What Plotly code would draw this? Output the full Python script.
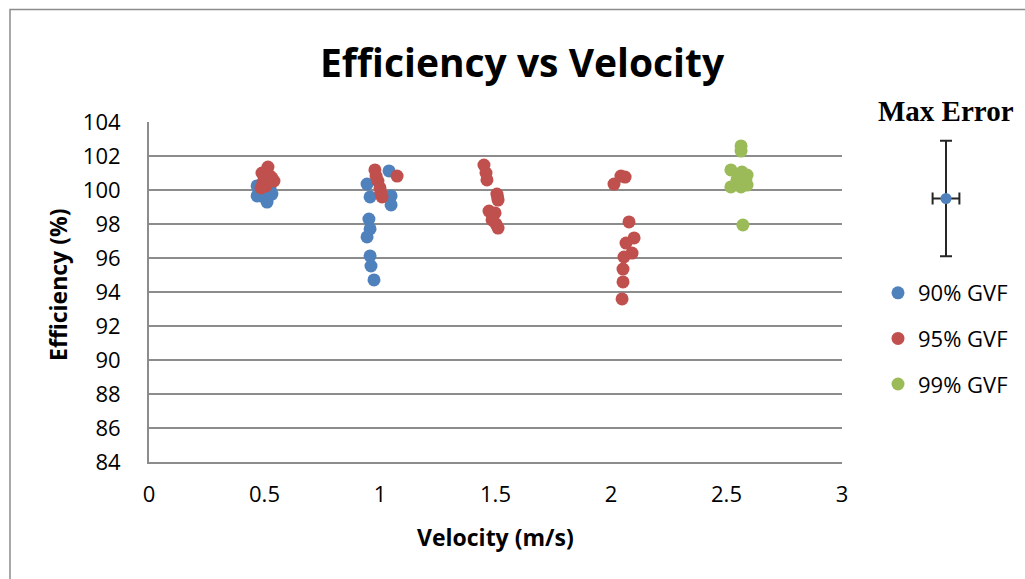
import plotly.graph_objects as go

# Measured efficiency vs superficial velocity, grouped by gas volume fraction
vel_90 = [0.468, 0.485, 0.511, 0.532, 0.498, 0.468, 0.524,
          0.944, 1.039, 0.957, 1.048, 1.048, 0.952, 0.957, 0.944, 0.957, 0.961, 0.974]
eff_90 = [100.24, 99.65, 99.29, 99.76, 100.0, 99.65, 100.06,
          100.35, 101.12, 99.59, 99.65, 99.12, 98.29, 97.71, 97.24, 96.12, 95.53, 94.71]

vel_95 = [0.515, 0.489, 0.532, 0.541, 0.494, 0.506, 0.485, 0.524, 0.502,
          0.978, 0.983, 0.991, 1.000, 1.004, 1.009, 1.074,
          1.450, 1.459, 1.463, 1.506, 1.511, 1.509, 1.472, 1.498, 1.485, 1.502, 1.511,
          2.043, 2.061, 2.013, 2.078, 2.100, 2.065, 2.091, 2.056, 2.052, 2.052, 2.048]
eff_95 = [101.35, 101.0, 100.71, 100.53, 100.47, 100.24, 100.12, 100.82, 100.7,
          101.18, 100.82, 100.53, 100.12, 99.82, 99.59, 100.82,
          101.47, 101.0, 100.59, 99.76, 99.41, 99.6, 98.76, 98.65, 98.24, 98.0, 97.76,
          100.82, 100.76, 100.35, 98.12, 97.18, 96.88, 96.29, 96.06, 95.35, 94.59, 93.59]

vel_99 = [2.563, 2.563, 2.519, 2.567, 2.589, 2.545, 2.584, 2.519, 2.563, 2.589, 2.571]
eff_99 = [102.59, 102.29, 101.18, 101.06, 100.88, 100.59, 100.59, 100.18, 100.18, 100.29, 97.94]

# Maximum measurement uncertainty (velocity, efficiency)
max_err_vel = 0.058
max_err_eff = 3.4
max_err_center = 99.5

x_ticks = [0, 0.5, 1, 1.5, 2, 2.5, 3]
y_ticks = [84, 86, 88, 90, 92, 94, 96, 98, 100, 102, 104]

BLUE = "#4F81BD"
RED = "#C0504D"
GREEN = "#9BBB59"
GRID = "#8C8C8C"
FONT = "Open Sans"

W, H = 1025, 579
L, R, T, B = 149, 0, 122, 117
PW = W - L - R
PH = H - T - B


def px(x):
    return (x - L) / PW


def py(y):
    return (H - B - y) / PH


fig = go.Figure()
series = [("90% GVF", vel_90, eff_90, BLUE),
          ("95% GVF", vel_95, eff_95, RED),
          ("99% GVF", vel_99, eff_99, GREEN)]
for name, xs, ys, col in series:
    fig.add_trace(go.Scatter(
        x=xs, y=ys, mode="markers", name=name, legendgroup=name,
        marker=dict(color=col, size=13, line=dict(width=0)),
        cliponaxis=False,
    ))

# Max error indicator drawn on its own axes, same scale as the main plot
fig.add_trace(go.Scatter(
    x=[0], y=[max_err_center], mode="markers", showlegend=False,
    xaxis="x2", yaxis="y2",
    marker=dict(color=BLUE, size=11),
    error_x=dict(type="constant", value=max_err_vel, color="#262626", thickness=2, width=6),
    error_y=dict(type="constant", value=max_err_eff, color="#262626", thickness=2, width=6),
    cliponaxis=False,
))

x_main_end = (842 - L) / PW
x2_lo, x2_hi = px(900), px(992)
half = (992 - 900) / 2 / 231.0

fig.update_layout(
    width=W, height=H,
    margin=dict(l=L, r=R, t=T, b=B, autoexpand=False),
    paper_bgcolor="white", plot_bgcolor="white",
    font=dict(family=FONT, size=22, color="black"),
    xaxis=dict(
        domain=[0, x_main_end], range=[0, 3], tickvals=x_ticks,
        ticktext=[("%g" % v) for v in x_ticks],
        showgrid=False, zeroline=False, showline=True, linecolor=GRID, linewidth=2,
        ticks="", ticklabelstandoff=12, tickfont=dict(size=22),
    ),
    yaxis=dict(
        range=[84, 104], tickvals=y_ticks,
        showgrid=True, gridcolor=GRID, gridwidth=2, zeroline=False,
        showline=True, linecolor=GRID, linewidth=2, ticks="", ticklabelstandoff=22,
        tickfont=dict(size=22),
    ),
    xaxis2=dict(domain=[x2_lo, x2_hi], range=[-half, half], visible=False),
    yaxis2=dict(range=[84, 104], anchor="x2", visible=False),
    showlegend=True,
    legend=dict(
        x=px(878), y=py(272), xanchor="left", yanchor="top",
        font=dict(family=FONT, size=22), tracegroupgap=14,
        bgcolor="rgba(0,0,0,0)", itemclick=False,
    ),
    shapes=[dict(
        type="rect", xref="paper", yref="paper",
        x0=px(10), x1=px(W + 10), y0=py(H + 10), y1=py(9.5),
        line=dict(color="#8C8C8C", width=1.5), fillcolor="rgba(0,0,0,0)", layer="below",
    )],
    annotations=[
        dict(text="<b>Efficiency vs Velocity</b>", xref="paper", yref="paper",
             x=px(522), y=py(62), xanchor="center", yanchor="middle", showarrow=False,
             font=dict(family=FONT, size=39, color="black")),
        dict(text="<b>Velocity (m/s)</b>", xref="paper", yref="paper",
             x=px(495), y=py(537), xanchor="center", yanchor="middle", showarrow=False,
             font=dict(family=FONT, size=23, color="black")),
        dict(text="<b>Efficiency (%)</b>", xref="paper", yref="paper",
             x=px(58), y=py(285), xanchor="center", yanchor="middle", showarrow=False,
             textangle=-90, font=dict(family=FONT, size=23, color="black")),
        dict(text="<b>Max Error</b>", xref="paper", yref="paper",
             x=px(946), y=py(111), xanchor="center", yanchor="middle", showarrow=False,
             font=dict(family="Liberation Serif", size=29, color="black")),
    ],
)

fig.write_html("out.html")
